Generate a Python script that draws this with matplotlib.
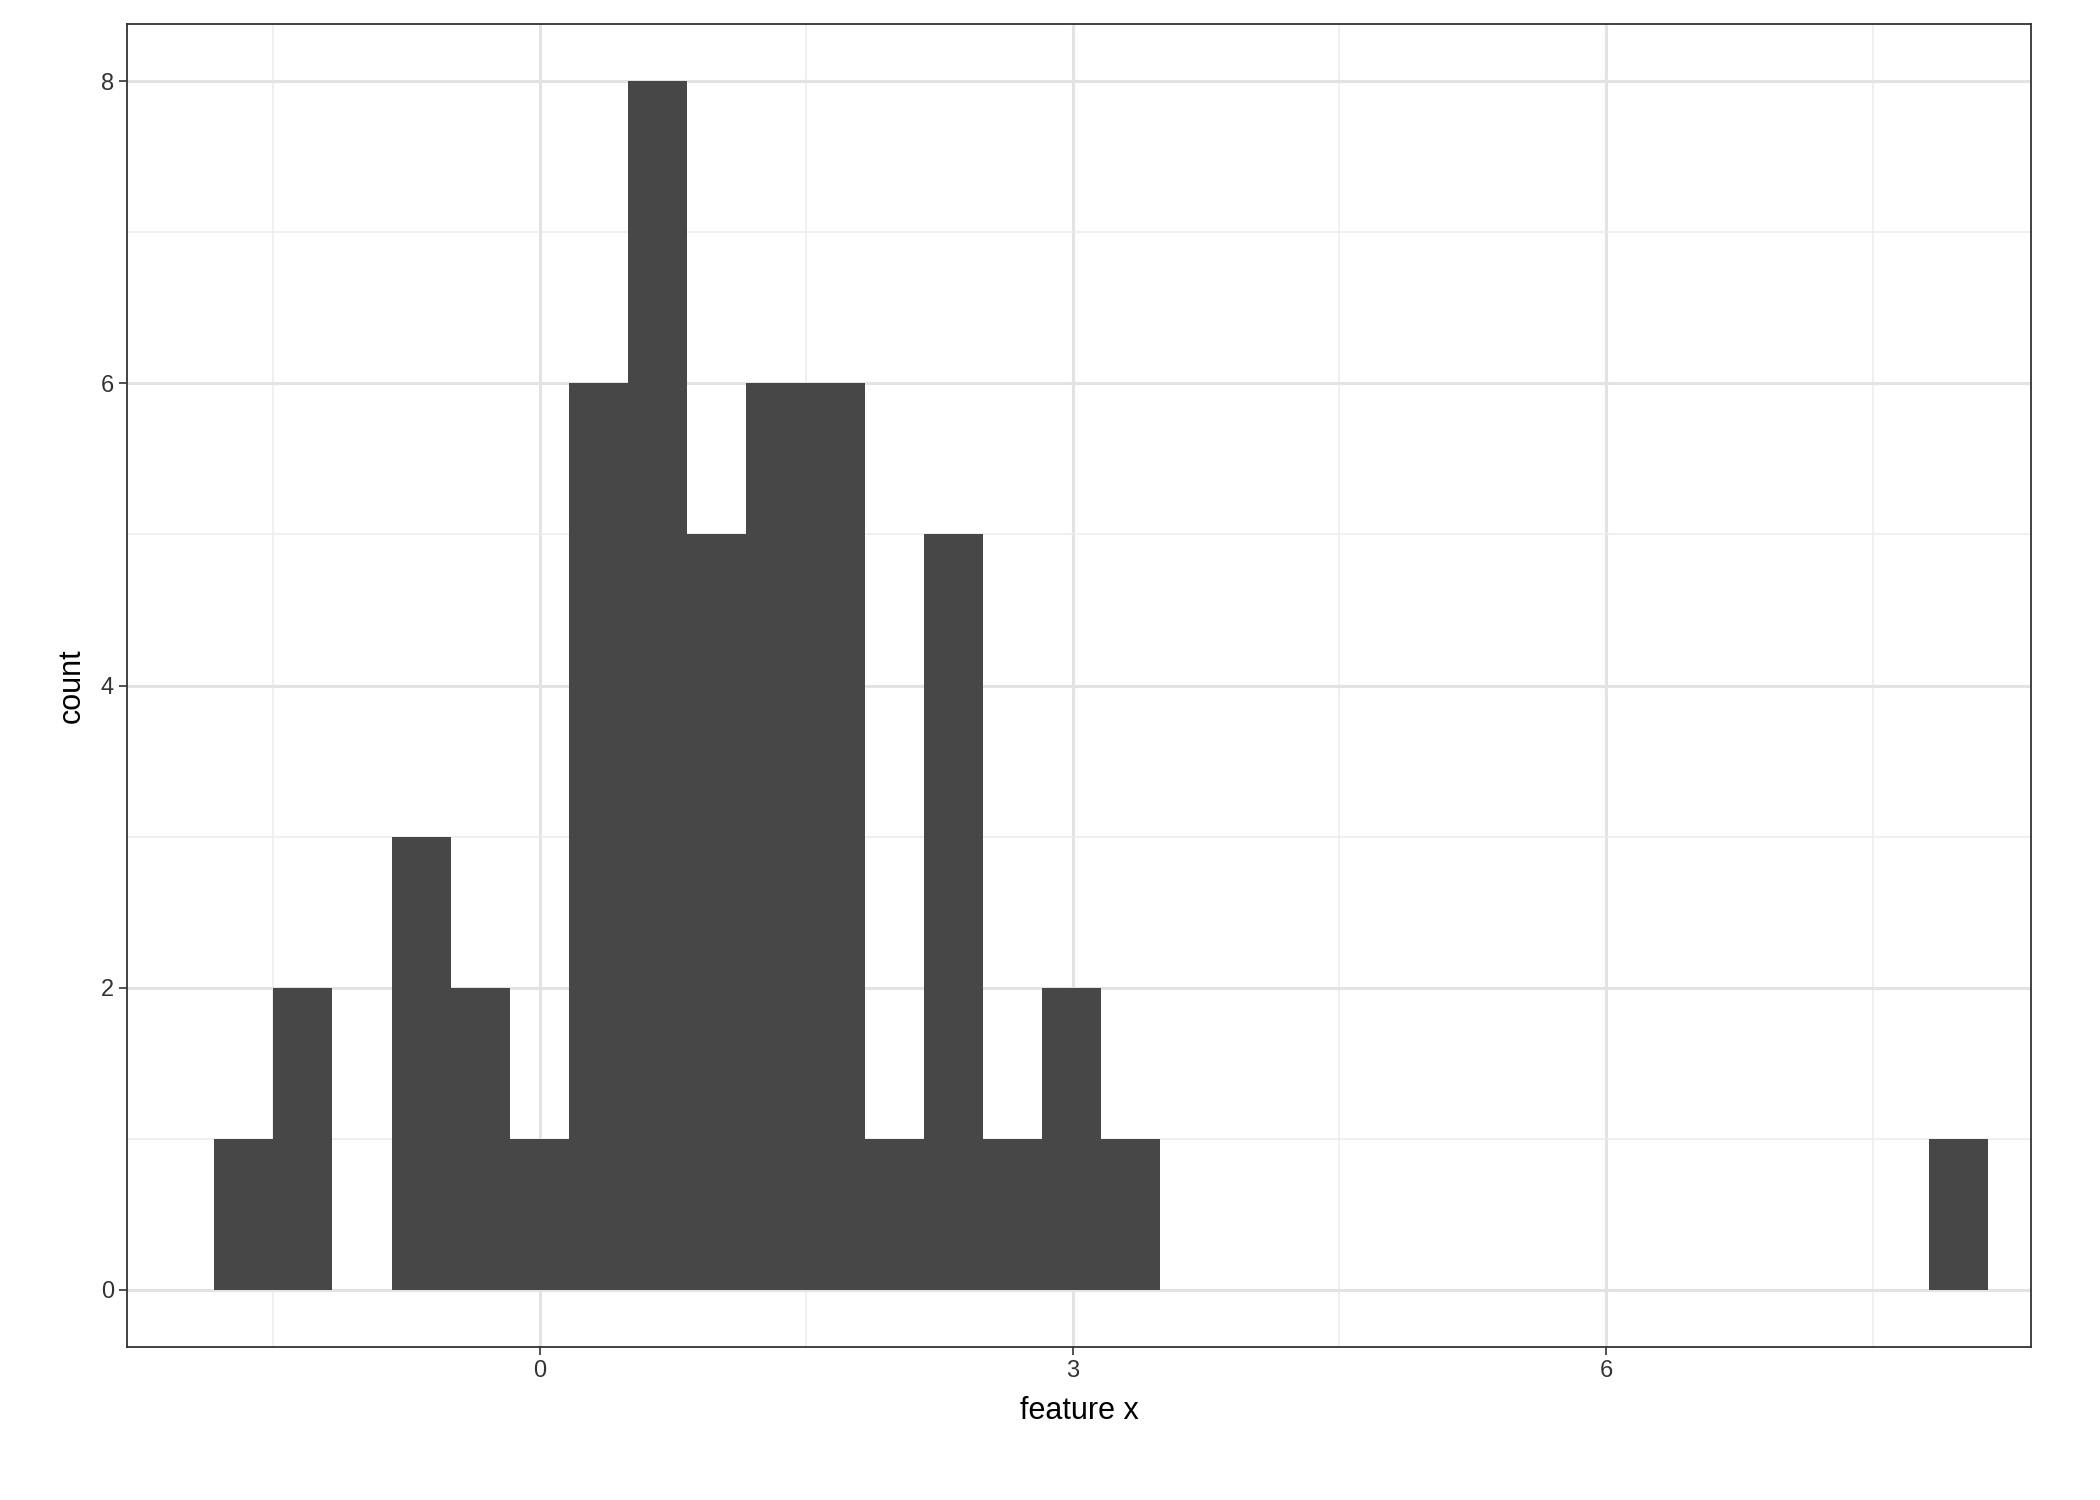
import numpy as np
import matplotlib.pyplot as plt
from matplotlib.ticker import MultipleLocator

# histogram: 30 bins
edge0 = -1.831
width = 0.3327
counts = [1, 2, 0, 3, 2, 1, 6, 8, 5, 6, 6, 1, 5, 1, 2, 1,
          0, 0, 0, 0, 0, 0, 0, 0, 0, 0, 0, 0, 0, 1]
edges = edge0 + width * np.arange(len(counts) + 1)

plt.rcParams['font.family'] = ['Liberation Sans', 'DejaVu Sans']
fig = plt.figure(figsize=(21, 15), dpi=100)
ax = fig.add_axes([0.0606, 0.102, 0.9064, 0.882])

ax.stairs(counts, edges, fill=True, color='#474747', zorder=3)

ax.set_xlim(-2.32, 8.39)
ax.set_ylim(-0.38, 8.38)
ax.xaxis.set_major_locator(MultipleLocator(3))
ax.xaxis.set_minor_locator(MultipleLocator(1.5))
ax.yaxis.set_major_locator(MultipleLocator(2))
ax.yaxis.set_minor_locator(MultipleLocator(1))
ax.grid(which='major', color='#e3e3e3', lw=2.2, zorder=0)
ax.grid(which='minor', color='#ececec', lw=1.1, zorder=0)
ax.tick_params(which='major', labelsize=17, colors='#333333', length=6, width=1.2)
ax.tick_params(which='minor', length=0)
for s in ax.spines.values():
    s.set_color('#333333')
    s.set_linewidth(1.3)

ax.set_xlabel('feature x', fontsize=22, labelpad=10)
ax.set_ylabel('count', fontsize=22, labelpad=10)

fig.savefig('out.png')
